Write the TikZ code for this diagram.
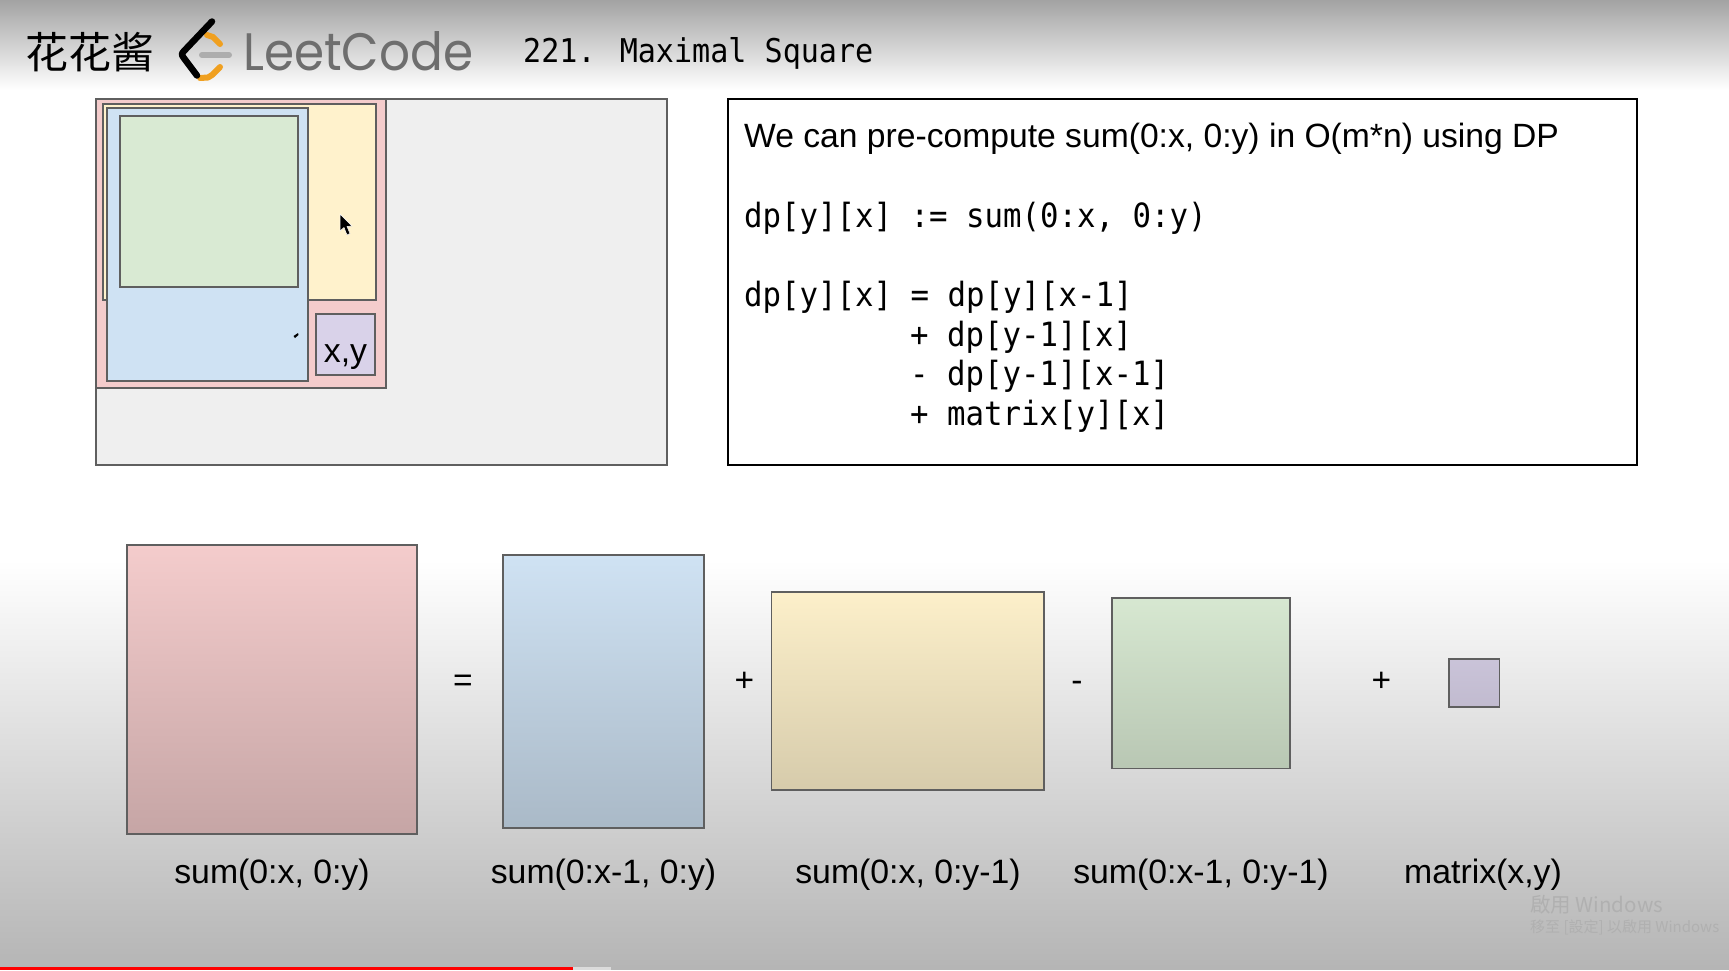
\documentclass[tikz,border=0pt]{standalone}
\usepackage{fontspec}
\setmainfont{Liberation Sans}
\newfontfamily\cjkfont{Noto Sans CJK TC}
\newfontfamily\cjkscfont{Noto Sans CJK SC}
\newfontfamily\codefont[FakeStretch=0.92]{DejaVu Sans Mono}
\newfontfamily\logofont[FakeStretch=0.92]{Poppins}
\usetikzlibrary{shadings}
\definecolor{boxpink}{HTML}{F4CCCC}
\definecolor{boxblue}{HTML}{CFE2F3}
\definecolor{boxyellow}{HTML}{FFF2CC}
\definecolor{boxgreen}{HTML}{D9EAD3}
\definecolor{boxpurple}{HTML}{D9D2E9}
\definecolor{edgegray}{HTML}{5F5F5F}
\definecolor{panelgray}{HTML}{EFEFEF}
\definecolor{logoorange}{HTML}{F0A020}
\definecolor{logogray}{HTML}{6E6E6E}
\tikzset{
  x=1pt,y=-1pt,
  rectbox/.style={draw=edgegray,line width=1.8pt},
  lbl/.style={font=\fontsize{33.8}{36}\selectfont,text=black,inner sep=0pt,anchor=base},
  opsign/.style={font=\fontsize{33.5}{36}\selectfont,text=black,inner sep=0pt,anchor=base},
  code/.style={font=\codefont\fontsize{33.4}{36}\selectfont,text=black,inner sep=0pt,anchor=base west},
}
\begin{document}
\begin{tikzpicture}
\useasboundingbox (0,0) rectangle (1729,970);
% background
\fill[white] (0,0) rectangle (1729,970);
\shade[top color=black!36,bottom color=white,shading angle=0] (0,0) rectangle (1729,90);
\shade[top color=white,bottom color=black!29] (0,560) rectangle (1729,967);
\fill[black!29] (0,967) rectangle (1729,970);
\fill[red] (0,967) rectangle (573,970);
\fill[black!14] (573,967) rectangle (611,970);
% header
\node[font=\cjkscfont\fontsize{43}{46}\selectfont,anchor=base west,inner sep=0pt] (brand) at (25,68) {花花酱};
\draw[logoorange,line width=6pt,line cap=round,line join=round] (207,35) -- (213,37) -- (220,44);
\draw[logoorange,line width=6pt,line cap=round,line join=round] (220,67) -- (212,75) -- (208,77.5) -- (200,78);
\draw[black,line width=6.5pt,line cap=round,line join=round] (212,21.5) -- (184,51) .. controls (181.5,53.5) and (181.5,55) .. (183.5,57.5) -- (197,75.5);
\draw[black!32,line width=6pt,line cap=round] (202,55) -- (229,55);
\node[font=\logofont\fontsize{52.7}{56}\selectfont,text=logogray,anchor=base west,inner sep=0pt] (logotext) at (243,70) {LeetCode};
\node[font=\codefont\fontsize{32.7}{36}\selectfont,anchor=base west,inner sep=0pt] (title) at (523,62.5) {221. Maximal Square};
% upper left
\draw[rectbox,fill=panelgray] (96,99) rectangle (667,465);
\draw[rectbox,fill=boxpink] (96,99) rectangle (386,388);
\draw[rectbox,fill=boxyellow] (103,104) rectangle (376,300);
\draw[rectbox,fill=boxblue] (107,108) rectangle (308,381);
\draw[rectbox,fill=boxgreen] (120,116) rectangle (298,287);
\draw[rectbox,fill=boxpurple] (316,314) rectangle (375,375);
\node[lbl] (xy) at (345.5,362) {x,y};
\fill[black] (293.5,336) -- (298,333) -- (298.5,335) -- (295,338) -- cycle;
\fill[black,draw=white,line width=.5pt] (340,214) -- (340,231) -- (344,227.5) -- (347,235) -- (350,233.5) -- (347,226.5) -- (352,226) -- cycle;
% text panel
\draw[black,line width=1.6pt,fill=white] (728,99) rectangle (1637,465);
\node[lbl,anchor=base west,font=\fontsize{33.65}{36}\selectfont] (pre) at (744,147) {We can pre-compute sum(0:x, 0:y) in O(m*n) using DP};
\node[code] (c1) at (744,227) {dp[y][x] := sum(0:x, 0:y)};
\node[code] (c2) at (744,306.8) {dp[y][x] = dp[y][x-1]};
\node[code] (c3) at (910,346.3) {+ dp[y-1][x]};
\node[code] (c4) at (910,385.8) {- dp[y-1][x-1]};
\node[code] (c5) at (910,425.8) {+ matrix[y][x]};
% equation row
\shade[rectbox,top color=boxpink,bottom color=boxpink!81!black] (127,545) rectangle (417,834);
\shade[rectbox,top color=boxblue,bottom color=boxblue!82!black] (503,555) rectangle (704,828);
\shade[rectbox,top color=boxyellow!99!black,bottom color=boxyellow!84!black] (771.5,592) rectangle (1044,790);
\shade[rectbox,top color=boxgreen!99!black,bottom color=boxgreen!85!black] (1112,598) rectangle (1290,768.5);
\shade[rectbox,top color=boxpurple!93!black,bottom color=boxpurple!89!black] (1449,659) rectangle (1499.5,707);
\node[opsign] (eq) at (463,691) {=};
\node[opsign] (p1) at (744.5,691) {+};
\node[opsign] (m1) at (1077,691) {-};
\node[opsign] (p2) at (1381.5,691) {+};
\node[lbl] (l1) at (272,883) {sum(0:x, 0:y)};
\node[lbl] (l2) at (603.5,883) {sum(0:x-1, 0:y)};
\node[lbl] (l3) at (908,883) {sum(0:x, 0:y-1)};
\node[lbl] (l4) at (1201,883) {sum(0:x-1, 0:y-1)};
\node[lbl] (l5) at (1483,883) {matrix(x,y)};
% watermark
\node[font=\cjkfont\fontsize{20.5}{22}\selectfont,text=black!31,anchor=base west,inner sep=0pt] (w1) at (1530,912) {啟用 Windows};
\node[font=\cjkfont\fontsize{15}{16}\selectfont,text=black!31,anchor=base west,inner sep=0pt] (w2) at (1530,932) {移至 [設定] 以啟用 Windows};
\end{tikzpicture}
\end{document}
